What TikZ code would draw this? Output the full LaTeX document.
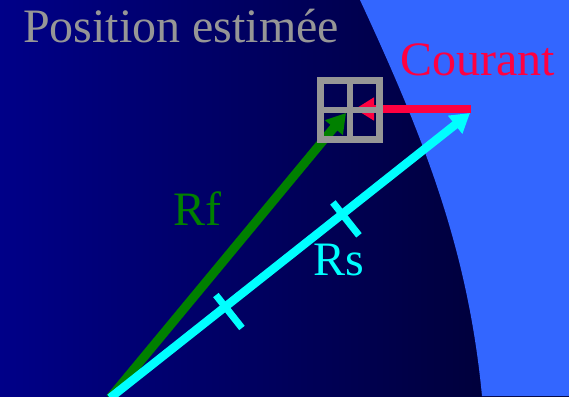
\documentclass[tikz,border=0pt]{standalone}
\usepackage{fontspec}
\setmainfont{Liberation Serif}
\usetikzlibrary{arrows.meta,calc}

\definecolor{bgleft}{RGB}{0,0,136}
\definecolor{bgright}{RGB}{0,0,46}
\definecolor{zone}{RGB}{51,102,255}
\definecolor{estgray}{RGB}{150,150,150}
\definecolor{courred}{RGB}{255,0,64}
\definecolor{rfgreen}{RGB}{0,128,0}
\definecolor{rscyan}{RGB}{0,255,255}

\begin{document}
\begin{tikzpicture}[x=1pt,y=-1pt,>={Triangle[length=19pt,width=22pt]},
  lbl/.style={font=\fontsize{48}{54}\selectfont,inner sep=0pt,anchor=base west},
  vec/.style={line width=8.5pt,->},
  tick/.style={rscyan,line width=7pt}]
\useasboundingbox (0,0) rectangle (569,396);
\fill[left color=bgleft,right color=bgright] (0,0) rectangle (569,396);
\fill[zone] (360,0) .. controls (425,140) and (468,250) .. (482,396) -- (569,396) -- (569,0) -- cycle;
% points
\coordinate (base) at (110,398);
\coordinate (tipf) at (346,113);
\coordinate (tips) at (470,113);
\coordinate (courant) at (471,109);
\coordinate (tipc) at (355,109);
% vectors
\draw[vec,rfgreen,line width=9pt] (base) -- (tipf);
\draw[vec,rscyan] (base) -- (tips);
\draw[vec,courred] (courant) -- (tipc);
\coordinate (t1) at ($(base)!0.32!(tips)$);
\coordinate (t2) at ($(base)!0.645!(tips)$);
\draw[tick] ($(t1)!15pt!90:(tips)$) -- ($(t1)!27pt!-90:(tips)$);
\draw[tick] ($(t2)!15pt!90:(tips)$) -- ($(t2)!27pt!-90:(tips)$);
% estimated position
\node[draw=estgray,line width=6.5pt,minimum size=59pt,inner sep=0pt] (grid) at (350,110) {};
\draw[estgray,line width=6.5pt] (grid.north) -- (grid.south);
\draw[estgray,line width=6.5pt] (grid.west) -- (grid.east);
% labels
\node[lbl,text=estgray] (pos) at (23,43) {Position estimée};
\node[lbl,text=courred] (cour) at (400,75) {Courant};
\node[lbl,text=rfgreen] (rf) at (173,225) {Rf};
\node[lbl,text=rscyan] (rs) at (313,275) {Rs};
\end{tikzpicture}
\end{document}
